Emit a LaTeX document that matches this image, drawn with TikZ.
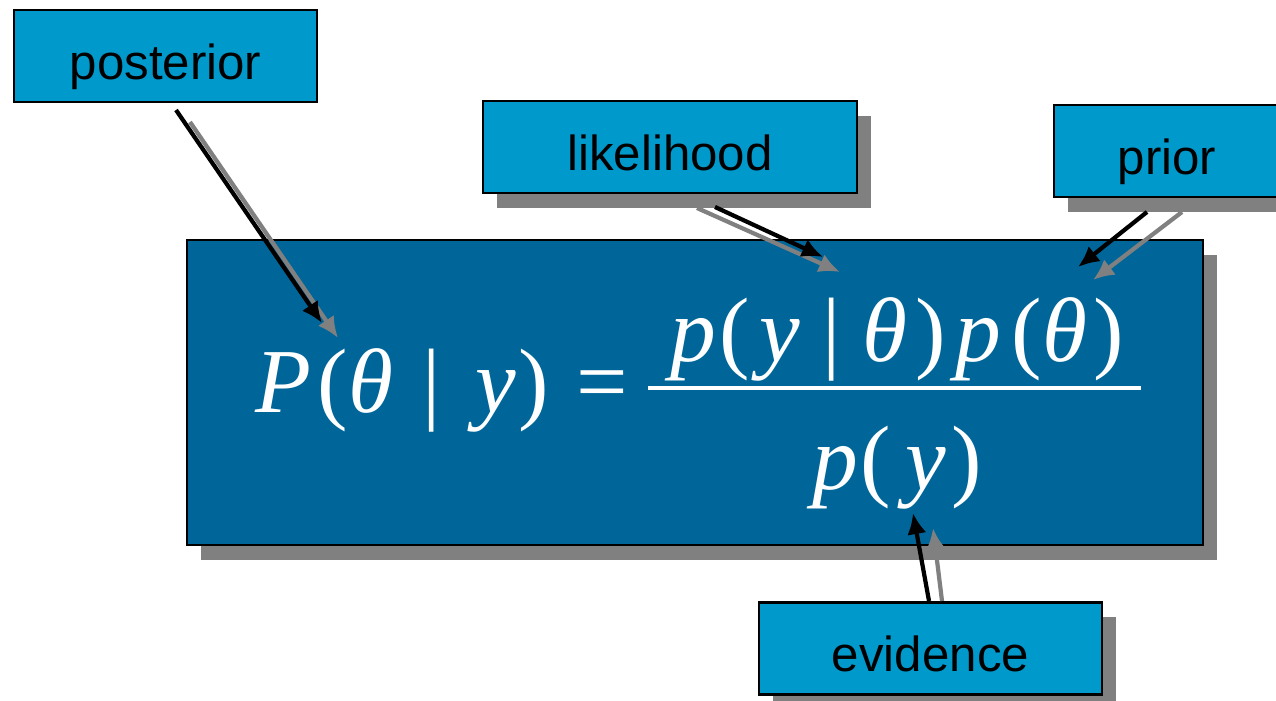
\documentclass[tikz,border=0pt]{standalone}
\usepackage{fontspec}
\setmainfont{Liberation Sans}
\newfontfamily\eqfont{Liberation Serif}
\usetikzlibrary{arrows.meta, shadows}

\definecolor{tagblue}{RGB}{0,153,204}
\definecolor{boxblue}{RGB}{0,102,153}
\definecolor{shadowgray}{RGB}{128,128,128}

\begin{document}
\begin{tikzpicture}[x=0.01cm, y=-0.01cm,
    tag/.style={rectangle, draw, line width=0.6pt, fill=tagblue,
                inner sep=0pt, text height=0.69cm, text depth=0.23cm,
                font=\fontsize{14}{16}\selectfont},
    boxshadow/.style={drop shadow={shadow xshift=0.14cm, shadow yshift=-0.15cm,
                      fill=shadowgray, opacity=1}},
    eq/.style={inner sep=0pt, text=white,
               font=\eqfont\fontsize{26}{30}\selectfont},
    ptr/.style={line width=1.2pt, -{Latex[length=6pt, width=5.5pt]}},
    ptrshadow/.style={ptr, draw=shadowgray, fill=shadowgray}
]
  \useasboundingbox (0,0) rectangle (1276,701);
  \fill[white] (0,0) rectangle (1276,701);

  % formula box
  \node[rectangle, draw, line width=0.6pt, fill=boxblue, boxshadow,
        minimum width=10.16cm, minimum height=3.05cm] (main) at (695,392.5) {};

  % formula
  \node[eq, anchor=base west] (lhs) at (255,413)
    {\textit{P}\hspace{0.06cm}(\textit{θ}\hspace{0.3cm}|\hspace{0.34cm}\textit{y}\hspace{0.03cm})\hspace{0.27cm}=};
  \node[eq, anchor=base] (num) at (897,362)
    {\textit{p}\hspace{0.03cm}(\hspace{0.1cm}\textit{y}\hspace{0.22cm}|\hspace{0.22cm}\textit{θ}\hspace{0.08cm})\hspace{0.1cm}\textit{p}\hspace{0.1cm}(\textit{θ}\hspace{0.06cm})};
  \node[eq, anchor=base] (den) at (897,490)
    {\textit{p}\hspace{0.02cm}(\hspace{0.15cm}\textit{y}\hspace{0.05cm})};
  \draw[white, line width=0.9pt] (648,388) -- (1141,388);

  % labels
  \node[tag, minimum width=3.03cm] (post) at (165.5,56) {posterior};
  \node[tag, boxshadow, minimum width=3.74cm] (like) at (670,147) {likelihood};
  \node[tag, boxshadow, minimum width=2.26cm] (prior) at (1167,151) {prior};
  \node[tag, boxshadow, minimum width=3.43cm] (evid) at (930.5,648.5) {evidence};

  % arrow ends
  \coordinate (post-a) at (176,110);  \coordinate (post-b) at (322,323);
  \coordinate (post-c) at (190,122);  \coordinate (post-d) at (338,338);
  \coordinate (like-a) at (715,207);  \coordinate (like-b) at (823,257);
  \coordinate (like-c) at (697,208);  \coordinate (like-d) at (840,272);
  \coordinate (prior-a) at (1147,212); \coordinate (prior-b) at (1078,267);
  \coordinate (prior-c) at (1182,212); \coordinate (prior-d) at (1093,280);
  \coordinate (evid-a) at (929,601);  \coordinate (evid-b) at (913,513);
  \coordinate (evid-c) at (942,601);  \coordinate (evid-d) at (933,528);

  % arrows
  \draw[ptrshadow] (post-c) -- (post-d);
  \draw[ptr] (post-a) -- (post-b);
  \draw[ptrshadow] (like-c) -- (like-d);
  \draw[ptr] (like-a) -- (like-b);
  \draw[ptrshadow] (prior-c) -- (prior-d);
  \draw[ptr] (prior-a) -- (prior-b);
  \draw[ptrshadow] (evid-c) -- (evid-d);
  \draw[ptr] (evid-a) -- (evid-b);
\end{tikzpicture}
\end{document}
